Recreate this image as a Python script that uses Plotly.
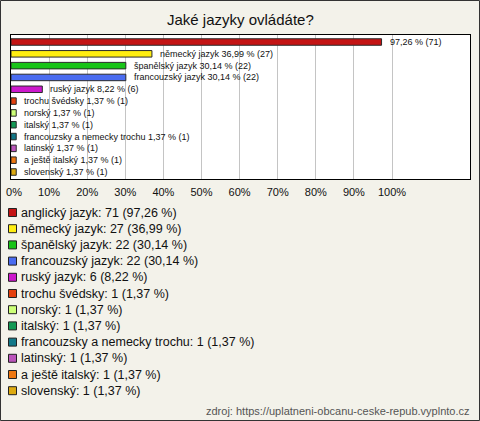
import plotly.graph_objects as go

categories = ["anglický jazyk", "německý jazyk", "španělský jazyk", "francouzský jazyk",
              "ruský jazyk", "trochu švédsky", "norský", "italský",
              "francouzsky a nemecky trochu", "latinský", "a ještě italský", "slovenský"]
counts = [71, 27, 22, 22, 6, 1, 1, 1, 1, 1, 1, 1]
percents = [97.26, 36.99, 30.14, 30.14, 8.22, 1.37, 1.37, 1.37, 1.37, 1.37, 1.37, 1.37]
colors = ["#c41414", "#ffee11", "#18c418", "#4a6cf0", "#cc18cc", "#e4400e",
          "#ccff77", "#129955", "#127888", "#bb55bb", "#ee7711", "#ddaa11"]
tick_vals = [0, 10, 20, 30, 40, 50, 60, 70, 80, 90, 100]
tick_text = ["\u00a0\u00a00%", "10%", "20%", "30%", "40%", "50%", "60%",
             "70%", "80%", "90%", "100%"]
title = "Jaké jazyky ovládáte?"
source = "zdroj: https://uplatneni-obcanu-ceske-repub.vyplnto.cz"

W, H = 480, 421
L, R, T, B = 11, 10, 35, 242
pw, ph = W - L - R, H - T - B

def px(x):
    return (x - L) / pw

def py(y):
    return 1 - (y - T) / ph

def fmt(v):
    return f"{v:.2f}".replace(".", ",")

fig = go.Figure()
fig.add_trace(go.Bar(
    x=percents, y=categories, orientation="h",
    marker=dict(color=colors, line=dict(color="#2a2a2a", width=1)),
    width=0.55, showlegend=False, hoverinfo="skip",
))

annotations = []
for i, (c, n, p) in enumerate(zip(categories, counts, percents)):
    label = f"{fmt(p)} % ({n})" if i == 0 else f"{c} {fmt(p)} % ({n})"
    annotations.append(dict(x=p, y=c, xref="x", yref="y", text=label, showarrow=False,
                            xanchor="left", xshift=6,
                            font=dict(family="Liberation Sans, Arial", size=9, color="#111")))

shapes = []
y0 = 212.5
step = 16.2
for i, (c, n, p, col) in enumerate(zip(categories, counts, percents, colors)):
    yc = y0 + i * step
    shapes.append(dict(type="rect", xref="paper", yref="paper",
                       x0=px(8.5), x1=px(16.5), y0=py(yc - 4), y1=py(yc + 4),
                       fillcolor=col, line=dict(color="#222", width=1)))
    annotations.append(dict(x=px(19), y=py(yc), xref="paper", yref="paper",
                            text=f"{c}: {n} ({fmt(p)} %)", showarrow=False,
                            xanchor="left", yanchor="middle",
                            font=dict(family="Liberation Sans, Arial", size=12.5, color="#111")))

annotations.append(dict(x=px(240), y=py(20), xref="paper", yref="paper", text=title,
                        showarrow=False, xanchor="center", yanchor="middle",
                        font=dict(family="Liberation Sans, Arial", size=15, color="#111")))
annotations.append(dict(x=px(472), y=py(411), xref="paper", yref="paper", text=source,
                        showarrow=False, xanchor="right", yanchor="middle",
                        font=dict(family="Liberation Sans, Arial", size=11, color="#555")))

shapes.append(dict(type="rect", xref="paper", yref="paper",
                   x0=px(0.5), x1=px(479.5), y0=py(0.5), y1=py(420.5),
                   line=dict(color="#333", width=1), fillcolor="rgba(0,0,0,0)"))

fig.update_layout(
    template="none",
    width=W, height=H,
    margin=dict(l=L, r=R, t=T, b=B, pad=0, autoexpand=False),
    paper_bgcolor="#f3f2ea", plot_bgcolor="#ffffff",
    annotations=annotations, shapes=shapes,
    bargap=0.45,
    xaxis=dict(range=[0, (470 - L) / 3.81], tickvals=tick_vals, ticktext=tick_text,
               automargin=False, ticklabeloverflow="allow",
               showgrid=True, gridcolor="#c4c4c4", gridwidth=1, zeroline=False,
               showline=True, linecolor="#000", linewidth=1, mirror=True,
               ticks="outside", ticklen=3, tickcolor="rgba(0,0,0,0)",
               tickfont=dict(family="Liberation Sans, Arial", size=11, color="#111")),
    yaxis=dict(autorange="reversed", showticklabels=False, showgrid=False, automargin=False,
               zeroline=False, showline=True, linecolor="#000", linewidth=1, mirror=True),
    font=dict(family="Liberation Sans, Arial"),
)

fig.write_html("out.html", config={"displayModeBar": False},
               post_script="document.body.style.margin='0';")
